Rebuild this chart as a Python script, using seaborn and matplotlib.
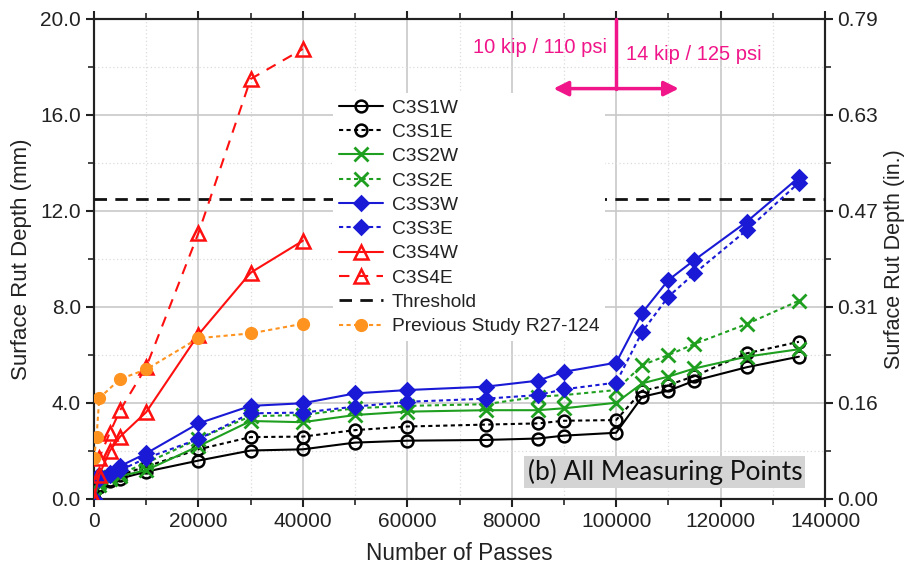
import numpy as np
import pandas as pd
import matplotlib
matplotlib.use("Agg")
import matplotlib.pyplot as plt
import seaborn as sns

# ---------------- data ----------------
passes = [0, 1000, 3000, 5000, 10000, 20000, 30000, 40000, 50000, 60000, 75000,
          85000, 90000, 100000, 105000, 110000, 115000, 125000, 135000]
c3s1w = [0.0, 0.5, 0.75, 0.85, 1.14, 1.6, 2.02, 2.07, 2.35, 2.43, 2.46, 2.52, 2.64, 2.76,
         4.26, 4.51, 4.93, 5.49, 5.93]
c3s1e = [0.0, 0.6, 0.8, 1.0, 1.35, 2.07, 2.58, 2.6, 2.87, 3.02, 3.1, 3.15, 3.26, 3.29,
         4.51, 4.75, 5.12, 6.07, 6.55]
c3s2w = [0.0, 0.6, 0.85, 0.95, 1.2, 2.2, 3.25, 3.2, 3.5, 3.64, 3.7, 3.7, 3.78, 4.01,
         4.82, 5.1, 5.44, 5.93, 6.24]
c3s2e = [0.0, 0.7, 0.9, 1.05, 1.5, 2.5, 3.45, 3.5, 3.78, 3.88, 3.95, 4.26, 4.33, 4.54,
         5.58, 6.0, 6.46, 7.29, 8.26]
c3s3w = [0.0, 1.0, 1.1, 1.37, 1.9, 3.15, 3.88, 3.99, 4.4, 4.54, 4.68, 4.93, 5.3, 5.68,
         7.76, 9.12, 9.96, 11.55, 13.4]
c3s3e = [0.0, 0.85, 1.0, 1.2, 1.7, 2.5, 3.57, 3.6, 3.85, 4.05, 4.18, 4.33, 4.57, 4.85,
         6.97, 8.43, 9.4, 11.2, 13.18]
passes_s4 = [0, 1000, 3000, 5000, 10000, 20000, 30000, 40000]
c3s4w = [0.0, 1.0, 2.0, 2.6, 3.62, 6.85, 9.43, 10.76]
c3s4e = [0.0, 1.7, 2.75, 3.7, 5.5, 11.08, 17.5, 18.75]
passes_prev = [0, 500, 1000, 5000, 10000, 20000, 30000, 40000]
prev_study = [1.7, 2.6, 4.2, 5.0, 5.4, 6.7, 6.9, 7.3]
threshold = 12.5
load_change = 100000
y_ticks_mm = [0, 4, 8, 12, 16, 20]
y_ticks_in = ["0.00", "0.16", "0.31", "0.47", "0.63", "0.79"]
x_ticks = [0, 20000, 40000, 60000, 80000, 100000, 120000, 140000]

# ---------------- style ----------------
sns.set_style("ticks")
plt.rcParams["font.family"] = ["Liberation Sans", "DejaVu Sans"]

fig = plt.figure(figsize=(9.10, 5.73), dpi=100)
ax = fig.add_axes([94/910, 1-499/573, (825-94)/910, (499-19)/573])

BLACK, GREEN, BLUE, RED, ORANGE, PINK = "#000000", "#1f9f1f", "#1a1ad6", "#ff1010", "#ff9320", "#f0168a"

def series(x, y, label, color, marker, dashes, ms, mfc="none", mew=1.8):
    ls = "-" if dashes is None else (0, dashes)
    sns.lineplot(x=x, y=y, ax=ax, label=label, color=color, marker=marker,
                 linestyle=ls, linewidth=1.5, markersize=ms, markerfacecolor=mfc,
                 markeredgecolor=color, markeredgewidth=mew, sort=False,
                 estimator=None, zorder=5)

series(passes, c3s1w, "C3S1W", BLACK, "o", None, 8.5)
series(passes, c3s1e, "C3S1E", BLACK, "o", (2, 1.6), 8.5)
series(passes, c3s2w, "C3S2W", GREEN, "x", None, 10, mew=2.0)
series(passes, c3s2e, "C3S2E", GREEN, "x", (2, 1.6), 10, mew=2.0)
series(passes, c3s3w, "C3S3W", BLUE, "D", None, 7, mfc=BLUE)
series(passes, c3s3e, "C3S3E", BLUE, "D", (2, 1.6), 7, mfc=BLUE)
series(passes_s4, c3s4w, "C3S4W", RED, "^", None, 9.5)
series(passes_s4, c3s4e, "C3S4E", RED, "^", (5, 4), 9.5)
ax.axhline(threshold, color="#111111", linewidth=2.0, linestyle=(0, (4.5, 3)),
           label="Threshold", zorder=4)
series(passes_prev, prev_study, "Previous Study R27-124", ORANGE, "o", (2, 1.6), 8.5, mfc=ORANGE, mew=1.0)

# axes limits & ticks
ax.set_xlim(0, 140000)
ax.set_ylim(0, 20)
ax.set_xticks(x_ticks)
ax.set_xticks(np.arange(10000, 140000, 20000), minor=True)
ax.set_yticks(y_ticks_mm)
ax.set_yticklabels([f"{v:.1f}" for v in y_ticks_mm])
ax.set_yticks([2, 6, 10, 14, 18], minor=True)
ax.tick_params(axis="both", which="major", labelsize=15, colors="#222222",
               length=6, width=1.5, direction="out", top=True)
ax.tick_params(axis="x", which="major", top=True, labeltop=False)
ax.tick_params(axis="both", which="minor", length=4, width=1.2, direction="out", top=True)
ax.grid(which="major", color="#c8c8c8", linewidth=1.2, linestyle="-")
ax.grid(which="minor", color="#dcdcdc", linewidth=0.9, linestyle=(0, (1, 2)))
ax.set_axisbelow(True)
for s in ax.spines.values():
    s.set_linewidth(1.5)
    s.set_color("#222222")

ax.set_xlabel("Number of Passes", fontsize=16.3, color="#222222", labelpad=8)
ax.set_ylabel("Surface Rut Depth (mm)", fontsize=16, color="#222222", labelpad=6)

# right axis in inches
ax2 = ax.twinx()
ax2.set_ylim(0, 20)
ax2.set_yticks(y_ticks_mm)
ax2.set_yticklabels(y_ticks_in)
ax2.set_yticks([2, 6, 10, 14, 18], minor=True)
ax2.tick_params(axis="y", which="major", labelsize=15, colors="#222222", length=6,
                width=1.5, pad=3)
ax2.tick_params(axis="y", which="minor", length=4, width=1.2)
ax2.set_ylabel("Surface Rut Depth (in.)", fontsize=15.5, color="#222222", labelpad=4)
for s in ax2.spines.values():
    s.set_linewidth(1.5)
    s.set_color("#222222")

# legend
leg = ax.legend(loc="upper left", bbox_to_anchor=(0.314, 0.865), fontsize=13.8,
                frameon=True, fancybox=False, framealpha=1, facecolor="white",
                edgecolor="none", labelspacing=0.36, handlelength=2.3,
                handletextpad=0.45, borderpad=0.3)
leg.set_zorder(20)
for t in leg.get_texts():
    t.set_color("#222222")

# load change annotation
ax.plot([load_change, load_change], [20, 17.1], color=PINK, linewidth=2.5, zorder=26, clip_on=False)
ax.annotate("", xy=(112000, 17.1), xytext=(88000, 17.1),
            arrowprops=dict(arrowstyle="<|-|>", color=PINK, lw=2.5, mutation_scale=22,
                            shrinkA=0, shrinkB=0), zorder=26)
ax.text(load_change - 1800, 18.8, "10 kip / 110 psi", color=PINK, fontsize=14.5,
        ha="right", va="center", zorder=26)
ax.text(load_change + 1800, 18.5, "14 kip / 125 psi", color=PINK, fontsize=14.5,
        ha="left", va="center", zorder=26)

# panel label
ax.text(0.781, 0.056, "(b) All Measuring Points", transform=ax.transAxes,
        fontsize=19, family=["Lato", "DejaVu Sans"], color="#111111",
        ha="center", va="center", zorder=26,
        bbox=dict(boxstyle="square,pad=0.12", facecolor="#d4d4d4", edgecolor="none"))

ax.set_zorder(ax2.get_zorder() + 1)
ax.patch.set_visible(False)

fig.savefig("out.png", dpi=100)
